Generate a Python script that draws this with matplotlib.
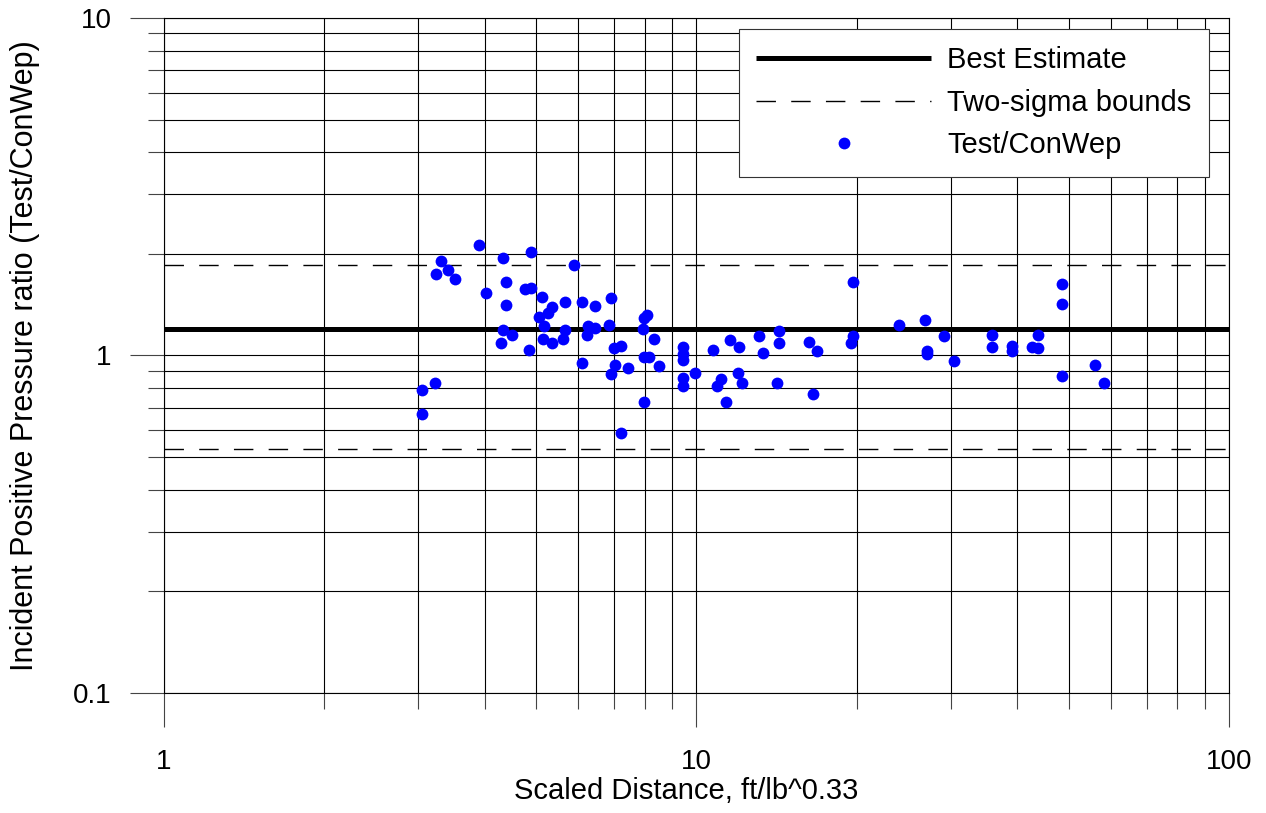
#%% Importing libraries

import numpy as np
import matplotlib
matplotlib.use('Agg')
from matplotlib import pyplot as plt
from matplotlib.ticker import LogLocator, NullFormatter, FixedLocator, FixedFormatter

plt.rcParams['font.family'] = ['Liberation Sans', 'DejaVu Sans']

#%% Data

scaled_dist = [3.05, 3.23, 3.05, 3.24, 3.31, 3.42, 3.52, 3.90, 4.02, 4.30,
               4.33, 4.33, 4.39, 4.39, 4.50, 4.76, 4.89, 4.89, 4.85, 5.06,
               5.13, 5.15, 5.17, 5.26, 5.35, 5.35, 5.61, 5.66, 5.66, 5.89,
               6.10, 6.10, 6.26, 6.45, 6.23, 6.45, 6.85, 6.91, 6.91, 7.03,
               7.00, 7.22, 7.44, 7.22, 7.97, 8.07, 7.94, 7.97, 8.14, 8.32,
               8.50, 7.97, 9.43, 9.43, 9.43, 9.43, 9.43, 9.94, 10.74, 11.56,
               12.02, 10.93, 11.12, 11.97, 12.18, 11.36, 13.10, 14.29, 14.29, 13.33,
               14.16, 16.27, 16.84, 16.55, 19.68, 19.68, 19.51, 24.01, 26.86, 27.10,
               27.10, 29.16, 30.45, 35.89, 35.89, 39.13, 39.13, 43.78, 42.66, 43.78,
               48.58, 48.58, 48.58, 56.02, 58.25]

ratio = [0.79, 0.83, 0.67, 1.74, 1.91, 1.79, 1.69, 2.12, 1.53, 1.09,
         1.95, 1.19, 1.65, 1.41, 1.15, 1.57, 1.58, 2.02, 1.04, 1.30,
         1.49, 1.12, 1.22, 1.34, 1.39, 1.09, 1.12, 1.44, 1.19, 1.86,
         1.44, 0.95, 1.22, 1.21, 1.15, 1.40, 1.23, 1.48, 0.88, 0.94,
         1.05, 1.07, 0.92, 0.59, 1.29, 1.32, 1.20, 0.99, 0.99, 1.12,
         0.93, 0.73, 1.06, 1.01, 0.97, 0.86, 0.81, 0.89, 1.04, 1.11,
         1.06, 0.81, 0.85, 0.89, 0.83, 0.73, 1.14, 1.18, 1.09, 1.02,
         0.83, 1.10, 1.03, 0.77, 1.65, 1.14, 1.09, 1.23, 1.27, 1.03,
         1.01, 1.14, 0.96, 1.15, 1.06, 1.07, 1.03, 1.15, 1.06, 1.05,
         1.63, 1.42, 0.87, 0.94, 0.83]

best_estimate = 1.20
sigma_upper   = 1.86
sigma_lower   = 0.53

x_range = [1, 100]
y_range = [0.1, 10]

#%% Plotting

fig = plt.figure(figsize = (12.66, 8.13), dpi = 100)
ax = fig.add_axes([0.1295, 0.1476, 0.8413, 0.8303])

ax.set_xscale('log')
ax.set_yscale('log')
ax.set_xlim(x_range)
ax.set_ylim(y_range)

ax.plot(x_range, [best_estimate]*2, '-', color = 'black', lw = 3.6,
        solid_capstyle = 'butt', label = 'Best Estimate', zorder = 3)
ax.plot(x_range, [sigma_upper]*2, color = 'black', lw = 1.0,
        dashes = (14, 11), label = 'Two-sigma bounds', zorder = 3)
ax.plot(x_range, [sigma_lower]*2, color = 'black', lw = 1.0,
        dashes = (14, 11), zorder = 3)
ax.plot(scaled_dist, ratio, 'o', color = '#0000ff', ms = 8.5, mew = 0,
        label = 'Test/ConWep', zorder = 4)

# Grid on every decade and sub-decade, ticks pointing out

ax.xaxis.set_major_locator(FixedLocator([1, 10, 100]))
ax.xaxis.set_major_formatter(FixedFormatter(['1', '10', '100']))
ax.yaxis.set_major_locator(FixedLocator([0.1, 1, 10]))
ax.yaxis.set_major_formatter(FixedFormatter(['0.1', '1', '10']))
ax.xaxis.set_minor_locator(LogLocator(base = 10, subs = np.arange(2, 10)))
ax.yaxis.set_minor_locator(LogLocator(base = 10, subs = np.arange(2, 10)))
ax.xaxis.set_minor_formatter(NullFormatter())
ax.yaxis.set_minor_formatter(NullFormatter())
ax.grid(True, which = 'both', color = 'black', lw = 0.8)
ax.set_axisbelow(True)

ax.tick_params(which = 'major', direction = 'out', length = 24.5, width = 0.8,
               color = '#444444', labelsize = 20)
ax.tick_params(which = 'minor', direction = 'out', length = 11.5, width = 0.8,
               color = '#444444')
ax.tick_params(axis = 'x', which = 'major', pad = 16)
ax.tick_params(axis = 'y', which = 'major', pad = 13)
for s in ax.spines.values():
    s.set_linewidth(0.8)

ax.set_xlabel('Scaled Distance, ft/lb^0.33', fontsize = 21)
ax.set_ylabel('Incident Positive Pressure ratio (Test/ConWep)', fontsize = 22)
ax.xaxis.set_label_coords(0.49, -0.1244)
ax.yaxis.set_label_coords(-0.1164, 0.5)

leg = ax.legend(loc = 'upper right', bbox_to_anchor = (0.9812, 0.984),
                fontsize = 21, handlelength = 6.0, handletextpad = 0.55,
                borderpad = 0.6, labelspacing = 0.5, borderaxespad = 0,
                fancybox = False, framealpha = 1, edgecolor = '#333333')
leg.get_frame().set_linewidth(0.8)

plt.savefig('out.png', dpi = 100)
